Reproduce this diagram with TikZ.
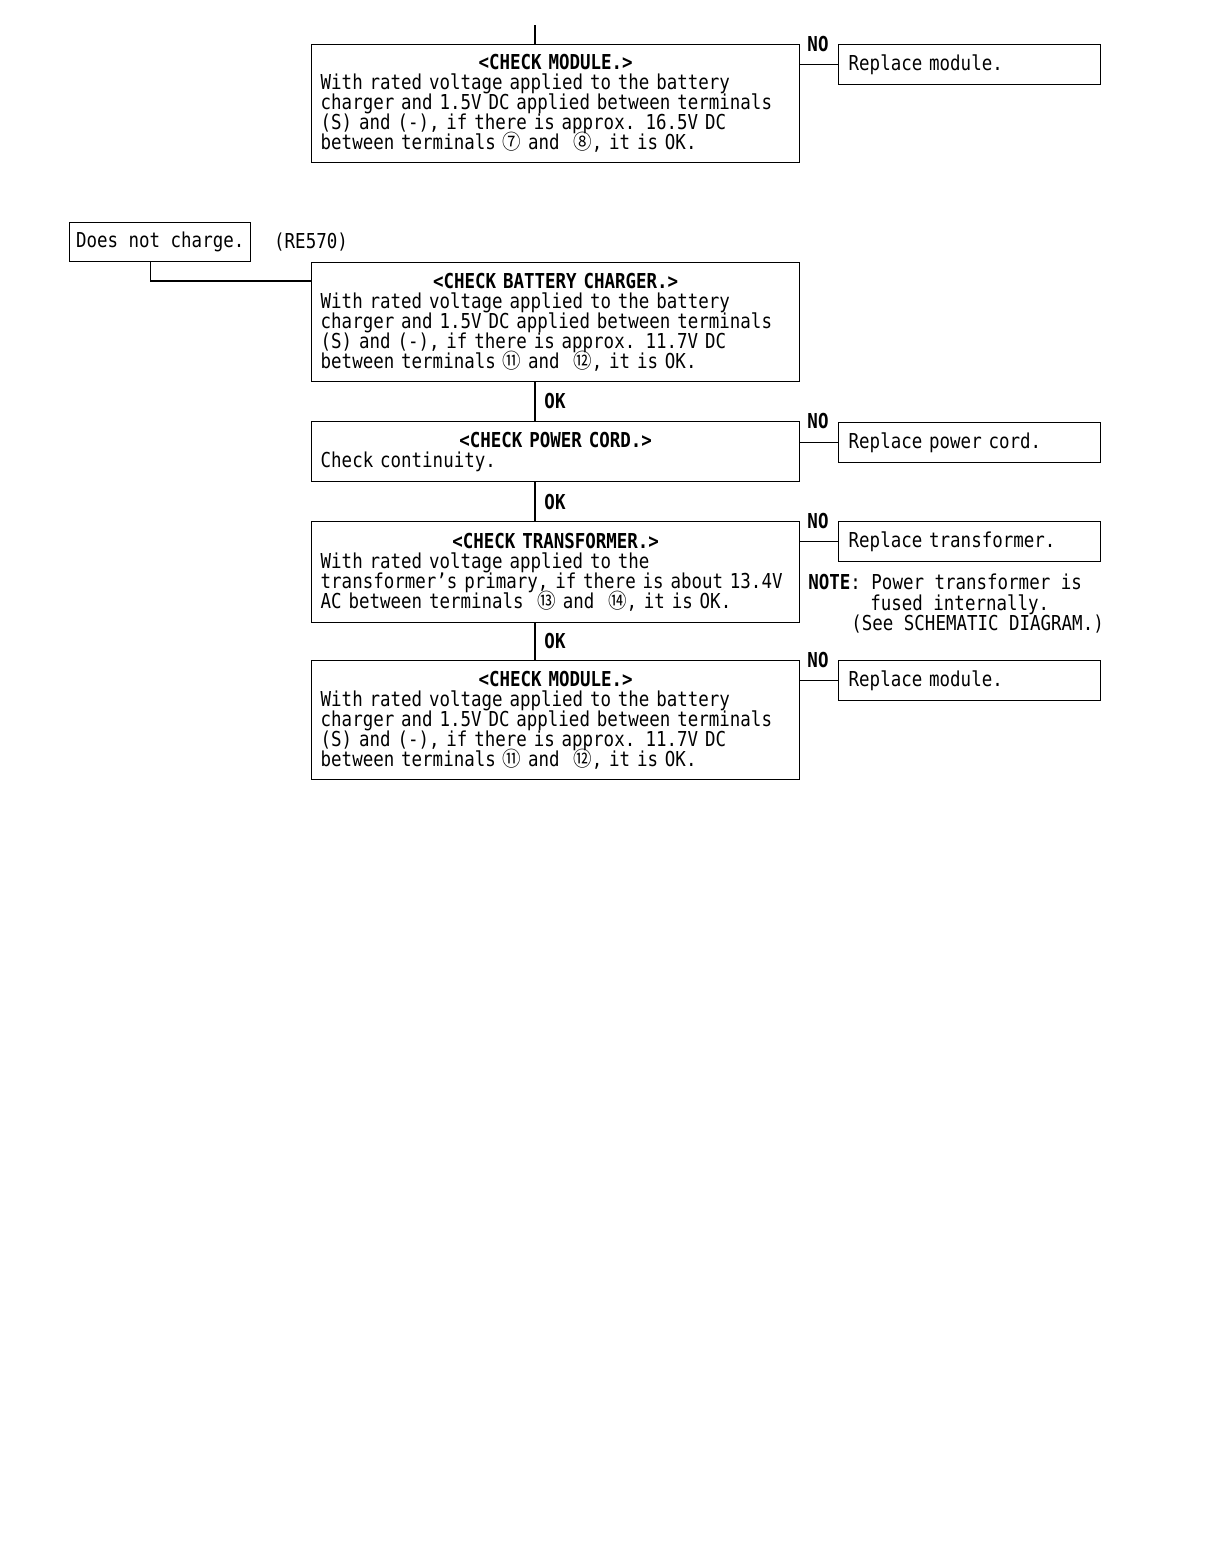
\documentclass[tikz,border=0pt]{standalone}
\usepackage{fontspec}
\setmainfont{DejaVu Sans Mono}[FakeStretch=0.85]
\newfontfamily\circfont{Noto Sans CJK JP}[FakeStretch=0.9]
\newcommand{\cnum}[1]{{\circfont #1}}
\newcommand{\flowfont}{\fontsize{11.7pt}{11.4pt}\selectfont\lineskiplimit=-100pt\relax}
\usetikzlibrary{positioning}

\begin{document}
\begin{tikzpicture}[
    x=0.02cm, y=-0.02cm,
    every node/.style={font=\flowfont},
    checkBox/.style={draw, line width=0.8pt, anchor=north west, inner xsep=0.18cm, inner ysep=0pt, text width=9.4cm, align=left, minimum height=#1},
    replBox/.style={draw, line width=0.8pt, anchor=north west, inner xsep=0.2cm, inner ysep=0pt, text width=4.84cm, align=left, minimum height=0.8cm},
    flowLine/.style={line width=0.8pt},
    tagLbl/.style={font=\flowfont\bfseries}
]
    \useasboundingbox (0,0) rectangle (1208,1552);

    % Spine of the flow
    \coordinate (spineTop) at (535,25);

    % Module check (upper part)
    \node[checkBox=2.36cm] (modA) at (311,44) {\makebox[\hsize]{\bfseries <CHECK MODULE.>}\\
        With rated voltage applied to the battery\\
        charger and 1.5V DC applied between terminals\\
        (S) and (-), if there is approx. 16.5V DC\\
        between terminals \cnum{⑦} and~ \cnum{⑧}, it is OK.};
    \node[replBox] (repA) at (838,44) {Replace module.};
    \node[tagLbl] (noA) at (818,44) {NO};

    % Start
    \node[draw, line width=0.8pt, anchor=north west, minimum width=3.62cm, minimum height=0.78cm] (noCharge) at (69,222) {Does not charge.};
    \node[anchor=west] (model) at (268,242) {(RE570)};

    % Checks
    \node[checkBox=2.38cm] (chgChk) at (311,262) {\makebox[\hsize]{\bfseries <CHECK BATTERY CHARGER.>}\\
        With rated voltage applied to the battery\\
        charger and 1.5V DC applied between terminals\\
        (S) and (-), if there is approx. 11.7V DC\\
        between terminals \cnum{⑪} and~ \cnum{⑫}, it is OK.};

    \node[checkBox=1.2cm] (cordChk) at (311,421) {\makebox[\hsize]{\bfseries <CHECK POWER CORD.>}\\
        Check continuity.};
    \node[replBox] (repCord) at (838,422) {Replace power cord.};

    \node[checkBox=2.02cm] (transChk) at (311,521) {\makebox[\hsize]{\bfseries <CHECK TRANSFORMER.>}\\
        With rated voltage applied to the\\
        \makebox[\hsize][l]{transformer\char"27 s primary, if there is about 13.4V}\\
        AC between terminals~ \cnum{⑬} and~ \cnum{⑭}, it is OK.};
    \node[replBox] (repTrans) at (838,521) {Replace transformer.};
    \node[anchor=north west, align=left, inner sep=0pt] (note) at (808,574) {{\bfseries NOTE}: Power transformer is\\
        \hspace*{1.24cm}fused internally.\\
        \hspace*{0.86cm}(See SCHEMATIC DIAGRAM.)};

    \node[checkBox=2.38cm] (modB) at (311,660) {\makebox[\hsize]{\bfseries <CHECK MODULE.>}\\
        With rated voltage applied to the battery\\
        charger and 1.5V DC applied between terminals\\
        (S) and (-), if there is approx. 11.7V DC\\
        between terminals \cnum{⑪} and~ \cnum{⑫}, it is OK.};
    \node[replBox] (repB) at (838,660) {Replace module.};

    % Labels
    \node[tagLbl] (okA) at (555,401) {OK};
    \node[tagLbl] (okB) at (555,502) {OK};
    \node[tagLbl] (okC) at (555,641) {OK};
    \node[tagLbl] (noB) at (818,421) {NO};
    \node[tagLbl] (noC) at (818,521) {NO};
    \node[tagLbl] (noD) at (818,660) {NO};

    % Connectors
    \draw[flowLine] (spineTop) -- (spineTop |- modA.north);
    \draw[flowLine] (repA.west) -- (repA.west -| modA.east);
    \draw[flowLine] ([xshift=-0.19cm]noCharge.south) |- ([yshift=-0.38cm]chgChk.north west);
    \draw[flowLine] (chgChk.south -| spineTop) -- (cordChk.north -| spineTop);
    \draw[flowLine] (cordChk.south -| spineTop) -- (transChk.north -| spineTop);
    \draw[flowLine] (transChk.south -| spineTop) -- (modB.north -| spineTop);
    \draw[flowLine] (repCord.west) -- (repCord.west -| cordChk.east);
    \draw[flowLine] (repTrans.west) -- (repTrans.west -| transChk.east);
    \draw[flowLine] (repB.west) -- (repB.west -| modB.east);
\end{tikzpicture}
\end{document}
